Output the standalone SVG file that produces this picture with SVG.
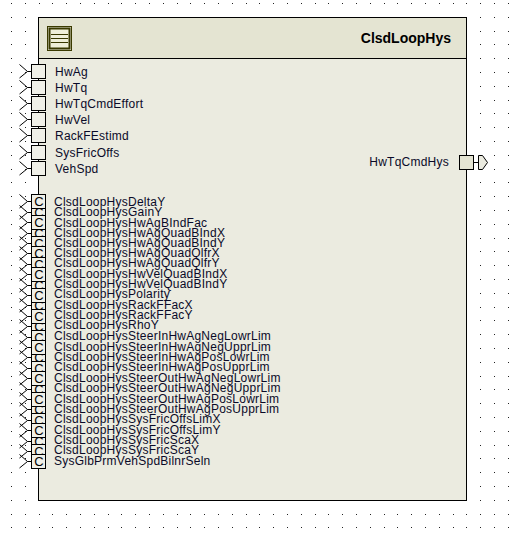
<svg xmlns="http://www.w3.org/2000/svg" xmlns:xlink="http://www.w3.org/1999/xlink" width="513" height="538" viewBox="0 0 513 538">
<style>
text{font-family:"Liberation Sans",Arial,sans-serif;font-size:12px;fill:#0a0a28}
.l{letter-spacing:.24px}
.t{font-size:14px;font-weight:bold;fill:#000}
.c{font-size:13px;text-anchor:middle;fill:#000}
.p{fill:#f0f0e8;stroke:#000}
.w{fill:none;stroke:#000}
</style>
<defs>
<pattern id="dots" width="69" height="69" patternUnits="userSpaceOnUse" x="11" y="3"><path fill="#222" d="M0 0h1v1h-1zM14 0h1v1h-1zM28 0h1v1h-1zM41 0h1v1h-1zM55 0h1v1h-1zM0 14h1v1h-1zM14 14h1v1h-1zM28 14h1v1h-1zM41 14h1v1h-1zM55 14h1v1h-1zM0 28h1v1h-1zM14 28h1v1h-1zM28 28h1v1h-1zM41 28h1v1h-1zM55 28h1v1h-1zM0 41h1v1h-1zM14 41h1v1h-1zM28 41h1v1h-1zM41 41h1v1h-1zM55 41h1v1h-1zM0 55h1v1h-1zM14 55h1v1h-1zM28 55h1v1h-1zM41 55h1v1h-1zM55 55h1v1h-1z"/></pattern>
<path id="pin" class="w" d="M31 7.500H27.500L19.500 .5M27.500 7.500L19.500 14"/>
<g id="box"><use xlink:href="#pin" href="#pin"/><rect class="p" x="31.500" y=".5" width="14" height="14"/></g>
<g id="cbox"><use xlink:href="#box" href="#box"/><text class="c" x="39" y="12">C</text></g>
</defs>
<rect width="513" height="538" fill="#fff"/>
<rect width="513" height="538" fill="url(#dots)"/>
<g id="block">
<rect x="38.500" y="17.500" width="428" height="483" fill="#ebebe0" stroke="#000"/>
<rect x="38.500" y="17.500" width="428" height="41" fill="#e4e4d2" stroke="#000"/>
<rect x="47.500" y="26.500" width="24" height="24" fill="#e4e4d2" stroke="#3a3a00"/>
<rect x="49.500" y="28.500" width="20" height="20" fill="#f0f0d8" stroke="#3a3a00" stroke-width="2"/>
<path d="M51 34.500H68M51 38.500H68M51 42.500H68" stroke="#3a3a00"/>
<text class="t" x="451" y="43" text-anchor="end">ClsdLoopHys</text>
</g>
<g id="in-HwAg"><use href="#box" y="64"/><text class="l" x="55" y="76">HwAg</text></g>
<g id="in-HwTq"><use href="#box" y="80"/><text class="l" x="55" y="92">HwTq</text></g>
<g id="in-HwTqCmdEffort"><use href="#box" y="96"/><text class="l" x="55" y="108">HwTqCmdEffort</text></g>
<g id="in-HwVel"><use href="#box" y="112"/><text class="l" x="55" y="124">HwVel</text></g>
<g id="in-RackFEstimd"><use href="#box" y="128"/><text class="l" x="55" y="140">RackFEstimd</text></g>
<g id="in-SysFricOffs"><use href="#box" y="145"/><text class="l" x="55" y="157">SysFricOffs</text></g>
<g id="in-VehSpd"><use href="#box" y="161"/><text class="l" x="55" y="173">VehSpd</text></g>
<g id="cal-ports">
<use href="#cbox" y="205"/><use href="#cbox" y="194"/>
<use href="#cbox" y="226"/><use href="#cbox" y="215"/>
<use href="#cbox" y="236"/><use href="#cbox" y="246"/>
<use href="#cbox" y="257"/><use href="#cbox" y="278"/>
<use href="#cbox" y="267"/><use href="#cbox" y="298"/>
<use href="#cbox" y="288"/><use href="#cbox" y="319"/>
<use href="#cbox" y="309"/><use href="#cbox" y="330"/>
<use href="#cbox" y="350"/><use href="#cbox" y="340"/>
<use href="#cbox" y="361"/><use href="#cbox" y="382"/>
<use href="#cbox" y="371"/><use href="#cbox" y="402"/>
<use href="#cbox" y="392"/><use href="#cbox" y="413"/>
<use href="#cbox" y="434"/><use href="#cbox" y="423"/>
<use href="#cbox" y="444"/><use href="#cbox" y="454"/>
</g>
<g id="cal-labels">
<text class="l" x="54" y="206">ClsdLoopHysDeltaY</text>
<text class="l" x="54" y="216">ClsdLoopHysGainY</text>
<text class="l" x="54" y="227">ClsdLoopHysHwAgBIndFac</text>
<text class="l" x="54" y="237">ClsdLoopHysHwAgQuadBIndX</text>
<text class="l" x="54" y="247">ClsdLoopHysHwAgQuadBIndY</text>
<text class="l" x="54" y="257">ClsdLoopHysHwAgQuadQlfrX</text>
<text class="l" x="54" y="267">ClsdLoopHysHwAgQuadQlfrY</text>
<text class="l" x="54" y="278">ClsdLoopHysHwVelQuadBIndX</text>
<text class="l" x="54" y="288">ClsdLoopHysHwVelQuadBIndY</text>
<text class="l" x="54" y="298">ClsdLoopHysPolarity</text>
<text class="l" x="54" y="309">ClsdLoopHysRackFFacX</text>
<text class="l" x="54" y="319">ClsdLoopHysRackFFacY</text>
<text class="l" x="54" y="329">ClsdLoopHysRhoY</text>
<text class="l" x="54" y="340">ClsdLoopHysSteerInHwAgNegLowrLim</text>
<text class="l" x="54" y="351">ClsdLoopHysSteerInHwAgNegUpprLim</text>
<text class="l" x="54" y="361">ClsdLoopHysSteerInHwAgPosLowrLim</text>
<text class="l" x="54" y="371">ClsdLoopHysSteerInHwAgPosUpprLim</text>
<text class="l" x="54" y="382">ClsdLoopHysSteerOutHwAgNegLowrLim</text>
<text class="l" x="54" y="392">ClsdLoopHysSteerOutHwAgNegUpprLim</text>
<text class="l" x="54" y="403">ClsdLoopHysSteerOutHwAgPosLowrLim</text>
<text class="l" x="54" y="413">ClsdLoopHysSteerOutHwAgPosUpprLim</text>
<text class="l" x="54" y="423">ClsdLoopHysSysFricOffsLimX</text>
<text class="l" x="54" y="434">ClsdLoopHysSysFricOffsLimY</text>
<text class="l" x="54" y="444">ClsdLoopHysSysFricScaX</text>
<text class="l" x="54" y="454">ClsdLoopHysSysFricScaY</text>
<text class="l" x="54" y="465">SysGlbPrmVehSpdBilnrSeln</text>
</g>
<g id="out-HwTqCmdHys">
<path class="w" d="M473 162.500H478"/>
<path d="M478.500 155.500H482.500L487.500 162.500L482.500 169.500H478.500Z" fill="#ebebe0" stroke="#000"/>
<rect x="459.500" y="155.500" width="14" height="14" fill="#e4e4d2" stroke="#000"/>
<text class="l" x="449" y="166" text-anchor="end">HwTqCmdHys</text>
</g>
</svg>
